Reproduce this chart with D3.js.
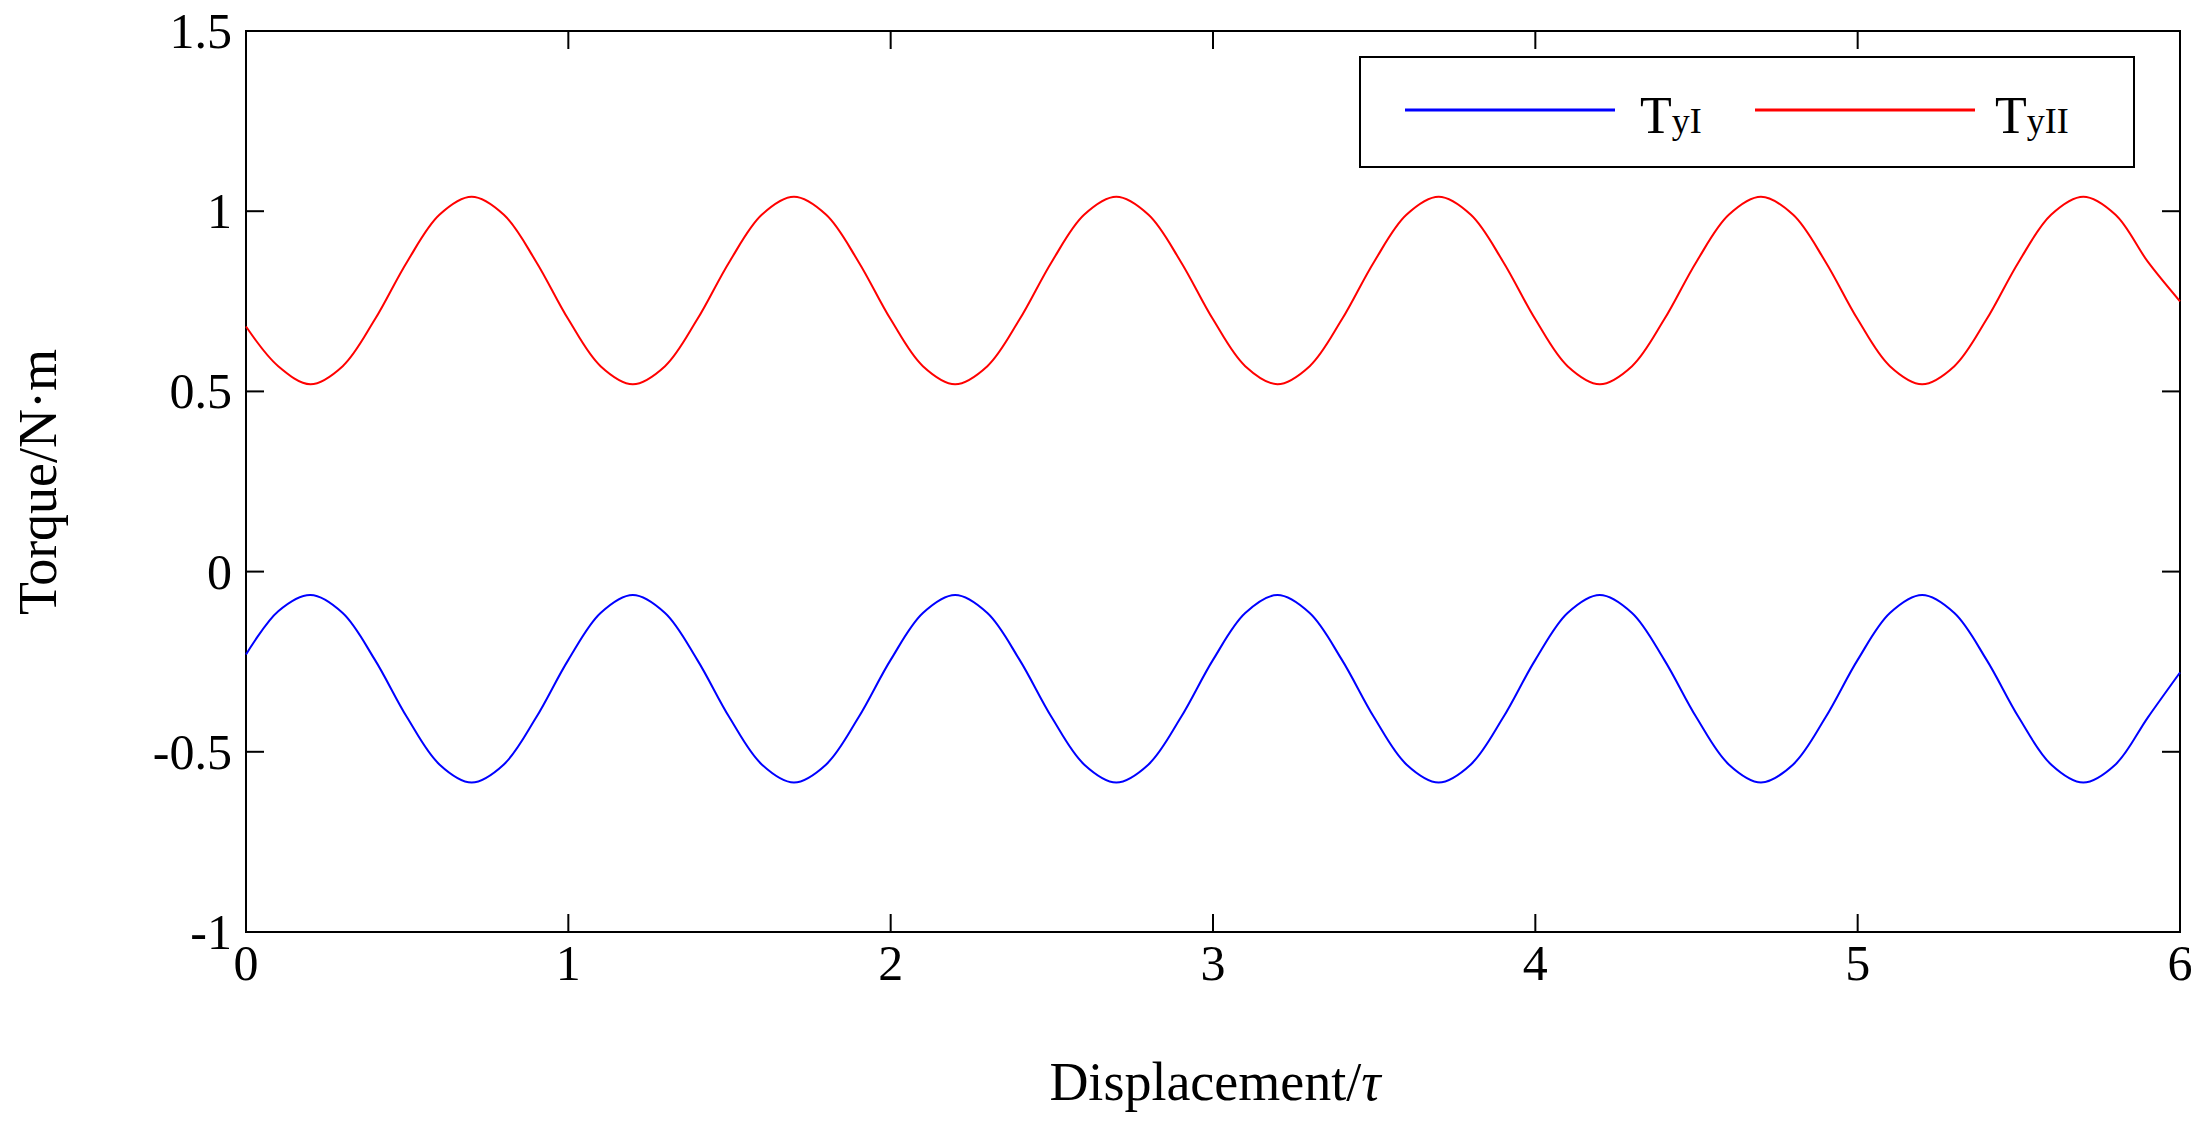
<!DOCTYPE html>
<html>
<head>
<meta charset="utf-8">
<script src="https://cdn.jsdelivr.net/npm/d3@7"></script>
<style>
  body { margin: 0; background: #fff; }
  text { font-family: "Liberation Serif", "Times New Roman", serif; }
</style>
</head>
<body>
<svg id="chart" width="2204" height="1130"></svg>
<script>
// displacement samples (tau), step 0.1
const xs = d3.range(0, 61).map(i => +(i * 0.1).toFixed(1))

const tyI = [
  -0.23, -0.11, -0.065, -0.115, -0.245, -0.405, -0.535, -0.585, -0.535, -0.405,
  -0.245, -0.115, -0.065, -0.115, -0.245, -0.405, -0.535, -0.585, -0.535, -0.405,
  -0.245, -0.115, -0.065, -0.115, -0.245, -0.405, -0.535, -0.585, -0.535, -0.405,
  -0.245, -0.115, -0.065, -0.115, -0.245, -0.405, -0.535, -0.585, -0.535, -0.405,
  -0.245, -0.115, -0.065, -0.115, -0.245, -0.405, -0.535, -0.585, -0.535, -0.405,
  -0.245, -0.115, -0.065, -0.115, -0.245, -0.405, -0.535, -0.585, -0.535, -0.405,
  -0.28
]
const tyII = [
  0.68, 0.57, 0.52, 0.57, 0.70, 0.86, 0.99, 1.04, 0.99, 0.86,
  0.70, 0.57, 0.52, 0.57, 0.70, 0.86, 0.99, 1.04, 0.99, 0.86,
  0.70, 0.57, 0.52, 0.57, 0.70, 0.86, 0.99, 1.04, 0.99, 0.86,
  0.70, 0.57, 0.52, 0.57, 0.70, 0.86, 0.99, 1.04, 0.99, 0.86,
  0.70, 0.57, 0.52, 0.57, 0.70, 0.86, 0.99, 1.04, 0.99, 0.86,
  0.70, 0.57, 0.52, 0.57, 0.70, 0.86, 0.99, 1.04, 0.99, 0.86,
  0.75
]
const xTicks = [0, 1, 2, 3, 4, 5, 6]
const yTicks = [-1, -0.5, 0, 0.5, 1, 1.5]

const svg = d3.select('#chart')
const mLeft = 246, mRight = 2180, mTop = 31, mBottom = 932

const x = d3.scaleLinear().domain([0, 6]).range([mLeft, mRight])
const y = d3.scaleLinear().domain([-1, 1.5]).range([mBottom, mTop])

// frame
svg.append('rect')
  .attr('x', mLeft).attr('y', mTop)
  .attr('width', mRight - mLeft).attr('height', mBottom - mTop)
  .attr('fill', 'none').attr('stroke', '#000').attr('stroke-width', 2)

const tick = 18
const fs = 50
xTicks.forEach(t => {
  svg.append('line').attr('x1', x(t)).attr('x2', x(t)).attr('y1', mBottom).attr('y2', mBottom - tick).attr('stroke', '#000').attr('stroke-width', 2)
  svg.append('line').attr('x1', x(t)).attr('x2', x(t)).attr('y1', mTop).attr('y2', mTop + tick).attr('stroke', '#000').attr('stroke-width', 2)
  svg.append('text').attr('x', x(t)).attr('y', mBottom + 48).attr('text-anchor', 'middle').attr('font-size', fs).text(t)
})
yTicks.forEach(t => {
  svg.append('line').attr('x1', mLeft).attr('x2', mLeft + tick).attr('y1', y(t)).attr('y2', y(t)).attr('stroke', '#000').attr('stroke-width', 2)
  svg.append('line').attr('x1', mRight).attr('x2', mRight - tick).attr('y1', y(t)).attr('y2', y(t)).attr('stroke', '#000').attr('stroke-width', 2)
  svg.append('text').attr('x', mLeft - 14).attr('y', y(t) + 17).attr('text-anchor', 'end').attr('font-size', fs).text(t)
})

svg.append('text').attr('x', 1215).attr('y', 1100).attr('text-anchor', 'middle').attr('font-size', 54)
  .html('Displacement/<tspan font-style="italic">τ</tspan>')
svg.append('text').attr('transform', 'translate(56,482) rotate(-90)').attr('text-anchor', 'middle').attr('font-size', 54)
  .text('Torque/N·m')

const line = d3.line().x((d, i) => x(xs[i])).y(d => y(d)).curve(d3.curveCatmullRom)
svg.append('path').datum(tyI).attr('d', line).attr('fill', 'none').attr('stroke', '#0000ff').attr('stroke-width', 2)
svg.append('path').datum(tyII).attr('d', line).attr('fill', 'none').attr('stroke', '#ff0000').attr('stroke-width', 2)

// legend
const lg = svg.append('g')
lg.append('rect').attr('x', 1360).attr('y', 57).attr('width', 774).attr('height', 110)
  .attr('fill', '#fff').attr('stroke', '#000').attr('stroke-width', 2)
const items = [
  { name: 'I', color: '#0000ff', x0: 1405, x1: 1615, tx: 1640 },
  { name: 'II', color: '#ff0000', x0: 1755, x1: 1975, tx: 1995 }
]
items.forEach(it => {
  lg.append('line').attr('x1', it.x0).attr('x2', it.x1).attr('y1', 110).attr('y2', 110).attr('stroke', it.color).attr('stroke-width', 3)
  const t = lg.append('text').attr('x', it.tx).attr('y', 133).attr('font-size', 52)
  t.append('tspan').text('T')
  t.append('tspan').attr('font-size', 36).text('y' + it.name)
})
</script>
</body>
</html>
